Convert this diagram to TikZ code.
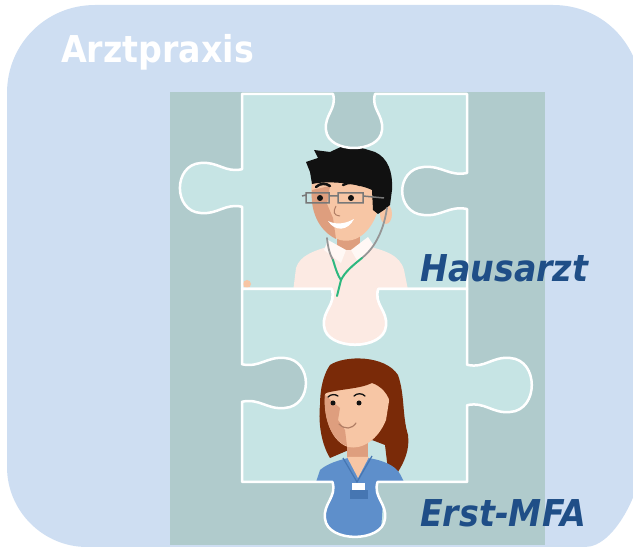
\documentclass[tikz,border=0pt]{standalone}
\usepackage{fontspec}
\usepackage{tikz}
\usepackage{xcolor}

\newfontfamily\rolefont{DejaVu Sans}[FakeStretch=0.9, BoldFont={* Bold}, BoldItalicFont={* Bold Oblique}]

\definecolor{bluebg}{RGB}{206,222,242}
\definecolor{panelgrey}{RGB}{176,203,204}
\definecolor{pieceteal}{RGB}{198,228,228}
\definecolor{roleblue}{RGB}{31,78,135}
\definecolor{skinlight}{RGB}{247,198,165}
\definecolor{skindark}{RGB}{222,158,126}
\definecolor{coatpink}{RGB}{252,234,227}
\definecolor{collarwhite}{RGB}{255,248,245}
\definecolor{hairblack}{RGB}{17,17,17}
\definecolor{hairbrown}{RGB}{122,42,8}
\definecolor{scrubsblue}{RGB}{94,143,203}
\definecolor{scrubsdark}{RGB}{70,118,178}
\definecolor{tubegrey}{RGB}{150,150,150}
\definecolor{tubegreen}{RGB}{45,184,127}

% knob on a horizontal edge: centre x, edge y, depth, direction, half width
\newcommand\hknob[5]{-- ({#1-0.75*(#5)*(#4)},{#2}) .. controls ({#1-0.6*(#5)*(#4)},{#2+0.25*(#3)}) and ({#1-1.07*(#5)*(#4)},{#2+0.35*(#3)}) .. ({#1-(#5)*(#4)},{#2+0.6*(#3)}) .. controls ({#1-0.93*(#5)*(#4)},{#2+(#3)}) and ({#1+0.93*(#5)*(#4)},{#2+(#3)}) .. ({#1+(#5)*(#4)},{#2+0.6*(#3)}) .. controls ({#1+1.07*(#5)*(#4)},{#2+0.35*(#3)}) and ({#1+0.6*(#5)*(#4)},{#2+0.25*(#3)}) .. ({#1+0.75*(#5)*(#4)},{#2})}
% knob on a vertical edge: centre y, edge x, depth, direction, half width
\newcommand\vknob[5]{-- ({#2},{#1-0.75*(#5)*(#4)}) .. controls ({#2+0.25*(#3)},{#1-0.6*(#5)*(#4)}) and ({#2+0.35*(#3)},{#1-1.07*(#5)*(#4)}) .. ({#2+0.6*(#3)},{#1-(#5)*(#4)}) .. controls ({#2+(#3)},{#1-0.93*(#5)*(#4)}) and ({#2+(#3)},{#1+0.93*(#5)*(#4)}) .. ({#2+0.6*(#3)},{#1+(#5)*(#4)}) .. controls ({#2+0.35*(#3)},{#1+1.07*(#5)*(#4)}) and ({#2+0.25*(#3)},{#1+0.6*(#5)*(#4)}) .. ({#2},{#1+0.75*(#5)*(#4)})}

\newcommand\upperpiece{(242,94) \hknob{354}{94}{60}{1}{28} -- (467,94) \vknob{191}{467}{-72}{1}{24} -- (467,289) \hknob{355}{289}{62}{-1}{31} -- (242,289) \vknob{188}{242}{-69}{-1}{25} -- cycle}
\newcommand\lowerpiece{(242,289) \hknob{355}{289}{62}{1}{31} -- (467,289) \vknob{385}{467}{72}{1}{27} -- (467,482) \hknob{355}{482}{61}{-1}{30} -- (242,482) \vknob{383}{242}{71}{-1}{25} -- cycle}

\tikzset{
  piecefill/.style={fill=pieceteal},
  pieceline/.style={draw=white, line width=2.5pt, line join=round},
  rolename/.style={font=\rolefont\fontsize{37}{40}\selectfont\bfseries\itshape, text=roleblue, inner sep=0pt, anchor=base west},
  tube/.style={draw=tubegrey, line width=1.8pt, line cap=round},
  greentube/.style={draw=tubegreen, line width=2pt, line cap=round},
}

\begin{document}
\begin{tikzpicture}[x=1pt, y=-1pt]
  \useasboundingbox (0,0) rectangle (633,548);

  % practice frame and puzzle board
  \fill[bluebg] (7,93) .. controls (7,44) and (46,5) .. (95,5) -- (553,5)
    .. controls (600,5) and (641,40) .. (643,100) -- (643,460)
    .. controls (641,490) and (615,547) .. (585,547) -- (87,547)
    .. controls (43,547) and (7,511) .. (7,467) -- cycle;
  \fill[panelgrey] (170,92) rectangle (545,545);

  % upper piece with the doctor
  \begin{scope}
    \clip \upperpiece;
    \fill[piecefill] (170,92) rectangle (545,545);
    \fill[coatpink] (292,300) -- (296,268) .. controls (300,255) and (315,250) .. (335,245)
      -- (362,245) .. controls (385,250) and (400,255) .. (404,270) -- (410,300) -- (400,360) -- (300,360) -- cycle;
    \fill[skinlight] (247,284) circle (4);
    \fill[skindark] (337,230) rectangle (360,250);
    \fill[collarwhite] (328,240) -- (346,250) -- (341,263) -- (324,250) -- cycle;
    \fill[collarwhite] (368,237) -- (351,250) -- (358,262) -- (374,246) -- cycle;
    \fill[skinlight] (386,214) ellipse (6 and 10);
    \fill[skinlight] (312,180) .. controls (309,205) and (318,232) .. (340,240)
      .. controls (358,244) and (372,230) .. (378,210) -- (378,180) -- cycle;
    \fill[skindark] (312,190) .. controls (310,210) and (318,230) .. (336,239)
      -- (333,218) -- (327,204) -- (330,186) -- cycle;
    \fill[hairblack] (306,162) -- (318,158) -- (314,150) -- (330,152) -- (345,145) -- (362,148)
      -- (375,152) .. controls (388,158) and (393,172) .. (392,190) -- (390,205) -- (384,210)
      -- (378,214) -- (373,210) -- (372,190) .. controls (360,184) and (330,180) .. (312,184)
      -- (310,172) -- cycle;
    \draw[hairblack, line width=2.5pt, line cap=round] (316,187) .. controls (320,183) and (326,183) .. (330,186)
      (343,185) .. controls (348,182) and (355,182) .. (360,185);
    \fill[hairblack] (320,198) circle (3) (351,198) circle (3);
    \draw[tubegrey!80!black, line width=1.5pt] (306,193) rectangle (329,203) (338,193) rectangle (363,203)
      (329,196) -- (338,196) (363,196) -- (384,198) (306,195) -- (302,196);
    \draw[skindark!80!black, line width=1pt] (336,206) .. controls (333,212) and (333,215) .. (340,216);
    \fill[white] (328,221) .. controls (335,232) and (348,231) .. (354,219)
      .. controls (345,224) and (336,225) .. cycle;
    \draw[tube] (387,208) .. controls (383,235) and (372,250) .. (362,258);
    \draw[tube] (327,238) .. controls (328,248) and (330,255) .. (333,260);
    \draw[greentube] (333,260) .. controls (336,270) and (338,276) .. (341,280)
      (362,258) .. controls (352,266) and (345,272) .. (341,280) -- (337,296);
  \end{scope}
  \draw[pieceline] \upperpiece;

  % lower piece with the assistant
  \begin{scope}
    \clip \lowerpiece;
    \fill[piecefill] (170,92) rectangle (545,545);
    \fill[hairbrown] (330,365) .. controls (345,355) and (385,355) .. (398,375)
      .. controls (405,395) and (402,415) .. (408,435) .. controls (410,450) and (404,462) .. (398,472)
      -- (388,470) -- (385,445) -- (372,440) -- (330,458) .. controls (322,445) and (318,425) .. (320,405)
      .. controls (320,390) and (323,375) .. (330,365) -- cycle;
    \fill[skindark] (347,438) rectangle (368,464);
    \fill[scrubsblue] (316,482) -- (320,470) .. controls (328,463) and (340,460) .. (348,458)
      -- (368,458) .. controls (382,460) and (395,465) .. (400,474) -- (404,482)
      -- (384,488) -- (380,545) -- (316,545) -- cycle;
    \fill[skinlight] (347,457) -- (358,478) -- (369,457) -- cycle;
    \draw[scrubsdark, line width=1.2pt] (343,458) -- (357,482) -- (372,456);
    \fill[skinlight] (326,385) .. controls (322,410) and (328,440) .. (348,447)
      .. controls (362,450) and (378,440) .. (386,420) -- (390,395)
      .. controls (380,378) and (340,375) .. (326,385) -- cycle;
    \fill[skindark] (325,395) .. controls (323,415) and (330,440) .. (347,446)
      -- (345,430) -- (338,420) -- (340,408) -- cycle;
    \fill[hairbrown] (321,398) .. controls (324,372) and (350,358) .. (375,362)
      .. controls (392,366) and (401,380) .. (399,400) -- (391,406)
      .. controls (389,394) and (381,386) .. (372,383) .. controls (360,389) and (340,389) .. (326,393) -- cycle;
    \draw[hairblack, line width=1.3pt, line cap=round] (328,397) .. controls (331,394) and (335,394) .. (338,396)
      (354,396) .. controls (357,393) and (362,393) .. (365,396);
    \fill[hairblack] (333,403) circle (2.5) (359,403) circle (2.5);
    \draw[skindark!80!black, line width=1.2pt, line cap=round] (339,424) .. controls (345,430) and (352,429) .. (356,423);
    \fill[scrubsdark] (350,490) rectangle (368,499);
    \fill[white] (352,483) rectangle (365,490);
  \end{scope}
  \draw[pieceline] \lowerpiece;

  \node[font=\rolefont\fontsize{37}{40}\selectfont\bfseries, text=white, inner sep=0pt, anchor=base west] (praxis) at (61,63) {Arztpraxis};
  \node[rolename] (hausarzt) at (420,282) {Hausarzt};
  \node[rolename] (mfa) at (420,527) {Erst-MFA};
\end{tikzpicture}
\end{document}
